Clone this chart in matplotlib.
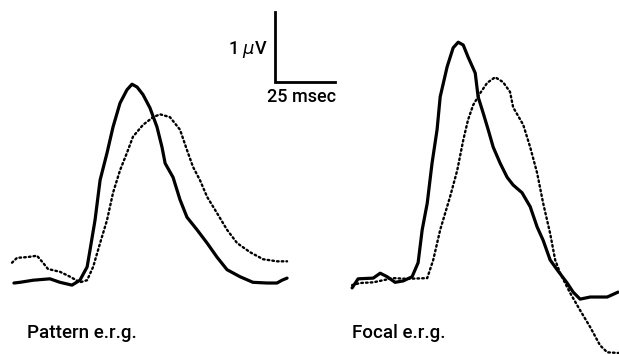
import matplotlib
matplotlib.use("Agg")
import matplotlib.pyplot as plt

#### data (time in msec from trace start, amplitude in microvolts)
pattern_solid_t = [0.8, 3.3, 8.8, 15.8, 20.0, 25.0, 28.3, 31.3, 32.5, 34.6, 36.7, 39.6, 42.1, 45.0,
                   47.9, 50.0, 52.1, 54.6, 57.5, 60.4, 62.5, 63.8, 67.1, 70.0, 72.9, 77.1, 81.3,
                   85.4, 89.6, 95.0, 100.4, 106.3, 110.4, 112.5, 114.6]
pattern_solid_v = [0.0, 0.01, 0.04, 0.06, 0.01, -0.03, 0.04, 0.23, 0.47, 0.90, 1.47, 1.86, 2.23, 2.57,
                   2.76, 2.84, 2.80, 2.69, 2.50, 2.23, 1.94, 1.71, 1.51, 1.19, 0.94, 0.76, 0.57,
                   0.37, 0.19, 0.09, 0.01, 0.0, 0.0, 0.04, 0.07]

pattern_dot_t = [0.0, 2.1, 6.3, 10.4, 12.9, 15.0, 20.0, 24.2, 28.3, 31.3, 33.8, 36.7, 39.6, 42.1,
                 45.0, 47.9, 50.4, 54.6, 58.8, 61.7, 65.8, 70.0, 72.9, 75.4, 78.3, 81.3, 85.4,
                 89.6, 93.8, 99.2, 104.6, 110.4, 114.6]
pattern_dot_v = [0.29, 0.36, 0.37, 0.39, 0.29, 0.20, 0.16, 0.09, 0.01, 0.04, 0.23, 0.57, 0.90, 1.29,
                 1.61, 1.86, 2.09, 2.26, 2.37, 2.41, 2.37, 2.19, 1.90, 1.66, 1.47, 1.23, 1.00,
                 0.76, 0.57, 0.44, 0.34, 0.31, 0.31]

focal_solid_t = [0.0, 2.5, 8.8, 11.7, 14.6, 17.9, 21.3, 25.0, 27.5, 29.2, 31.3, 33.3, 35.4, 36.7,
                 39.6, 42.1, 44.2, 46.3, 48.3, 51.3, 52.5, 54.6, 56.7, 58.8, 61.7, 64.6, 67.1,
                 70.8, 74.2, 77.1, 79.6, 82.5, 85.4, 89.6, 92.1, 95.0, 99.2, 106.3, 110.8]
focal_solid_v = [-0.07, 0.06, 0.07, 0.14, 0.09, 0.01, 0.03, 0.09, 0.29, 0.76, 1.14, 1.71, 2.19, 2.66,
                 3.09, 3.36, 3.44, 3.40, 3.23, 3.00, 2.66, 2.43, 2.19, 1.94, 1.71, 1.51, 1.40,
                 1.29, 1.09, 0.80, 0.61, 0.33, 0.19, 0.0, -0.13, -0.23, -0.20, -0.20, -0.13]

focal_dot_t = [0.0, 3.3, 8.8, 17.1, 22.9, 31.3, 33.8, 36.7, 40.8, 43.8, 46.3, 48.3, 50.4, 53.3,
               56.3, 59.6, 62.9, 65.8, 67.1, 71.3, 74.2, 77.1, 79.6, 82.5, 84.6, 86.7, 90.8,
               95.0, 99.2, 103.3, 106.3, 111.3]
focal_dot_v = [-0.03, 0.0, 0.01, 0.07, 0.06, 0.07, 0.33, 0.76, 1.23, 1.61, 2.04, 2.33, 2.54, 2.71,
               2.86, 2.94, 2.87, 2.73, 2.51, 2.26, 1.94, 1.57, 1.14, 0.71, 0.33, 0.14, -0.14,
               -0.39, -0.63, -0.89, -0.99, -1.0]

labels = ["Pattern e.r.g.", "Focal e.r.g."]
scale_ms = 25
scale_uv = 1

####
focal_offset = 141.7   # time shift of the right hand panel
font = dict(family="Roboto", fontweight="medium")
plt.rcParams["mathtext.fontset"] = "dejavusans"

fig = plt.figure(figsize=(6.19, 3.54), dpi=100)
ax = fig.add_axes([0, 0, 1, 1])
ax.set_xlim(-5, 252.9)
ax.set_ylim(-1.014, 4.043)
ax.axis("off")

solid = dict(color="black", lw=2.3, solid_joinstyle="round", solid_capstyle="round")
dotted = dict(color="black", lw=1.7, linestyle=(0, (0.7, 1.3)), dash_capstyle="round")

ax.plot(pattern_solid_t, pattern_solid_v, **solid)
ax.plot(pattern_dot_t, pattern_dot_v, **dotted)
ax.plot([t + focal_offset for t in focal_solid_t], focal_solid_v, **solid)
ax.plot([t + focal_offset for t in focal_dot_t], focal_dot_v, **dotted)

# calibration bar
x0, y0 = 109.6, 2.871
ax.plot([x0, x0, x0 + scale_ms], [y0 + scale_uv, y0, y0], color="black", lw=2.0,
        solid_joinstyle="miter")
ax.text(x0 - 3, y0 + 0.46, r"1 $\mu$V", ha="right", va="center", fontsize=13, **font)
ax.text(x0 + scale_ms / 2 - 1.5, y0 - 0.21, "25 msec", ha="center", va="center", fontsize=13,
        **font)

ax.text(6.25, -0.714, labels[0], ha="left", va="center", fontsize=13.5, **font)
ax.text(focal_offset, -0.714, labels[1], ha="left", va="center", fontsize=13.5, **font)

fig.savefig("out.png", dpi=100)
